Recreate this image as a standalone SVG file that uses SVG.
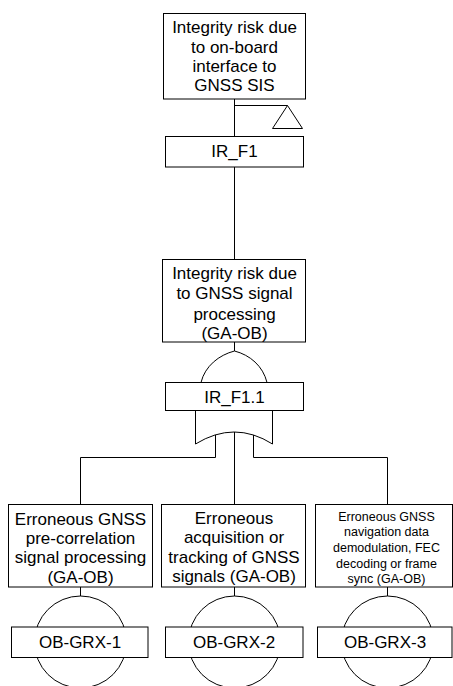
<svg xmlns="http://www.w3.org/2000/svg" width="453" height="686" viewBox="0 0 453 686">
  <style>
    .box { fill: #ffffff; stroke: #000000; stroke-width: 1; }
    .ln { fill: none; stroke: #000000; stroke-width: 1; }
    .t { font-family: "Liberation Sans", Arial, sans-serif; font-size: 17px; fill: #000000; text-anchor: middle; }
    .ts { font-family: "Liberation Sans", Arial, sans-serif; font-size: 12.5px; fill: #000000; text-anchor: middle; }
  </style>
  <rect x="0" y="0" width="453" height="686" fill="#ffffff"/>

  <!-- connectors -->
  <g id="connectors" class="ln">
    <path d="M234.5,99 V136"/>
    <path d="M234.5,167 V259"/>
    <path d="M234.5,342 V351"/>
    <path d="M215.5,435 V457.5 H80.5 V504"/>
    <path d="M234.5,432 V504"/>
    <path d="M253.5,435 V457.5 H387.5 V504"/>
    <path d="M80.5,587 V596"/>
    <path d="M234.5,587 V596"/>
    <path d="M387.5,587 V596"/>
  </g>

  <!-- top event, transferred -->
  <g id="IR_F1">
    <rect class="box" x="163.5" y="13.5" width="142" height="85.5"/>
    <text class="t" x="234.5" y="33">Integrity risk due</text>
    <text class="t" x="234.5" y="52.5">to on-board</text>
    <text class="t" x="234.5" y="72">interface to</text>
    <text class="t" x="234.5" y="91">GNSS SIS</text>
    <path class="ln" d="M234.5,105.5 H287.5"/>
    <path class="ln" d="M287.5,105.5 L302.5,128.5 H272.5 Z"/>
    <rect class="box" x="165.5" y="136.5" width="138" height="30.5"/>
    <text class="t" x="234.5" y="157">IR_F1</text>
  </g>

  <!-- intermediate event with OR gate -->
  <g id="IR_F1.1">
    <rect class="box" x="162.5" y="259.5" width="143" height="82.5"/>
    <text class="t" x="234.5" y="279">Integrity risk due</text>
    <text class="t" x="234.5" y="299">to GNSS signal</text>
    <text class="t" x="234.5" y="319.5">processing</text>
    <text class="t" x="234.5" y="339">(GA-OB)</text>
    <path class="ln" d="M201,382.5 C205,366 219,355 234.5,351 C250,355 263,366 267,382.5"/>
    <path class="ln" d="M195.5,410 V444 Q234.5,420 272.5,444 V410"/>
    <rect class="box" x="165.5" y="382.5" width="138" height="28"/>
    <text class="t" x="234.5" y="402.5">IR_F1.1</text>
  </g>

  <!-- basic events -->
  <g id="OB-GRX-1">
    <rect class="box" x="8.5" y="504.5" width="144" height="82.5"/>
    <text class="t" x="80.5" y="525">Erroneous GNSS</text>
    <text class="t" x="80.5" y="544">pre-correlation</text>
    <text class="t" x="80.5" y="563">signal processing</text>
    <text class="t" x="80.5" y="583">(GA-OB)</text>
    <circle class="ln" cx="80.5" cy="642" r="46"/>
    <rect class="box" x="11.5" y="627" width="136.5" height="30.5"/>
    <text class="t" x="80" y="648">OB-GRX-1</text>
  </g>

  <g id="OB-GRX-2">
    <rect class="box" x="161.5" y="504.5" width="144" height="82.5"/>
    <text class="t" x="234" y="524">Erroneous</text>
    <text class="t" x="234" y="543">acquisition or</text>
    <text class="t" x="234" y="563">tracking of GNSS</text>
    <text class="t" x="234" y="582">signals (GA-OB)</text>
    <circle class="ln" cx="234.5" cy="642" r="46"/>
    <rect class="box" x="165.5" y="627" width="137.5" height="30.5"/>
    <text class="t" x="234" y="648">OB-GRX-2</text>
  </g>

  <g id="OB-GRX-3">
    <rect class="box" x="315.5" y="504.5" width="137" height="82.5"/>
    <text class="ts" x="386.5" y="520.5">Erroneous GNSS</text>
    <text class="ts" x="386.5" y="536">navigation data</text>
    <text class="ts" x="386.5" y="551.5">demodulation, FEC</text>
    <text class="ts" x="386.5" y="567.5">decoding or frame</text>
    <text class="ts" x="386.5" y="583">sync (GA-OB)</text>
    <circle class="ln" cx="387.5" cy="642" r="46"/>
    <rect class="box" x="317.5" y="627" width="134.5" height="30.5"/>
    <text class="t" x="385" y="648">OB-GRX-3</text>
  </g>
</svg>
